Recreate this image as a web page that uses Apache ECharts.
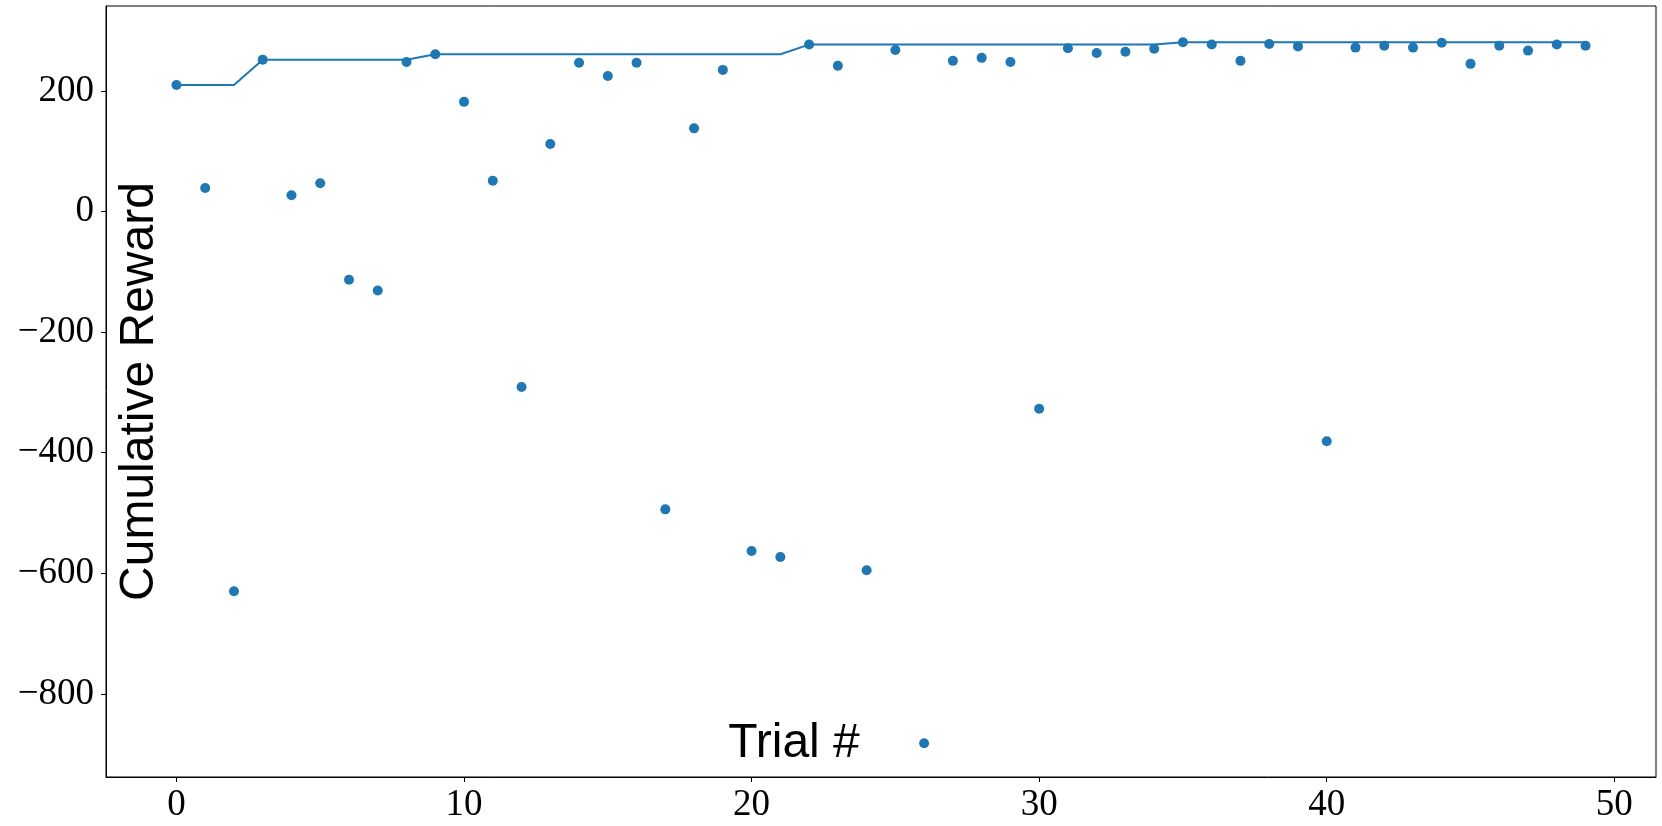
<!DOCTYPE html>
<html>
<head>
<meta charset="utf-8">
<script src="https://cdn.jsdelivr.net/npm/echarts@6/dist/echarts.min.js"></script>
<style>
html,body{margin:0;padding:0;background:#fff;}
#chart{width:1662px;height:826px;}
</style>
</head>
<body>
<div id="chart"></div>
<script>
// Trial numbers
const trials = [0,1,2,3,4,5,6,7,8,9,10,11,12,13,14,15,16,17,18,19,20,21,22,23,24,25,26,27,28,29,30,31,32,33,34,35,36,37,38,39,40,41,42,43,44,45,46,47,48,49];
// Cumulative reward per trial (scatter)
const rewards = [210,39,-630,252,27,47,-113,-131,248,261,182,51,-291,112,247,225,247,-494,138,235,-563,-573,277,242,-595,268,-882,250,255,248,-327,271,263,265,270,281,277,250,278,274,-381,272,275,272,280,245,275,267,277,275];
// Best reward so far (line)
const bestSoFar = [210,210,210,252,252,252,252,252,252,261,261,261,261,261,261,261,261,261,261,261,261,261,277,277,277,277,277,277,277,277,277,277,277,277,277,281,281,281,281,281,281,281,281,281,281,281,281,281,281,281];
// Tick values
const xTicks = [0,10,20,30,40,50];
const yTicks = [-800,-600,-400,-200,0,200];

const color = '#1f77b4';
const chart = echarts.init(document.getElementById('chart'), null, {renderer:'canvas'});
const fmt = v => v < 0 ? '\u2212' + Math.abs(v) : String(v);
chart.setOption({
  animation: false,
  backgroundColor: '#fff',
  grid: {left:106, right:6, top:6, bottom:49, show:true, borderColor:'#000', borderWidth:1, containLabel:false, outerBoundsMode:'none'},
  xAxis: {
    type:'value', min:-2.45, max:51.45,
    name:'Trial #', nameLocation:'middle', nameGap:-57, nameMoveOverlap:false,
    nameTextStyle:{fontFamily:'Liberation Sans, Arial, sans-serif', fontSize:48, color:'#000', padding:[0,174,0,0]},
    axisLine:{show:true, onZero:false, lineStyle:{color:'#000', width:1}},
    axisTick:{show:true, inside:false, length:5, lineStyle:{color:'#000', width:1}, customValues:xTicks},
    axisLabel:{show:true, margin:10, fontFamily:'Liberation Serif, serif', fontSize:37, color:'#000', customValues:xTicks, formatter:fmt},
    splitLine:{show:false}
  },
  yAxis: {
    type:'value', min:-938, max:341,
    name:'Cumulative Reward', nameLocation:'middle', nameGap:-58, nameMoveOverlap:false,
    nameTextStyle:{fontFamily:'Liberation Sans, Arial, sans-serif', fontSize:48, color:'#000'},
    axisLine:{show:true, onZero:false, lineStyle:{color:'#000', width:1}},
    axisTick:{show:true, inside:false, length:5, lineStyle:{color:'#000', width:1}, customValues:yTicks},
    axisLabel:{show:true, margin:12, fontFamily:'Liberation Serif, serif', fontSize:37, color:'#000', customValues:yTicks, formatter:fmt},
    splitLine:{show:false}
  },
  series: [
    {
      type:'line', name:'best', data: trials.map((t,i)=>[t,bestSoFar[i]]),
      showSymbol:false, symbol:'none', lineStyle:{color:color, width:2}, itemStyle:{color:color}, z:2
    },
    {
      type:'scatter', name:'reward', data: trials.map((t,i)=>[t,rewards[i]]),
      symbol:'circle', symbolSize:10, itemStyle:{color:color, opacity:1}, z:3
    }
  ]
});
</script>
</body>
</html>
